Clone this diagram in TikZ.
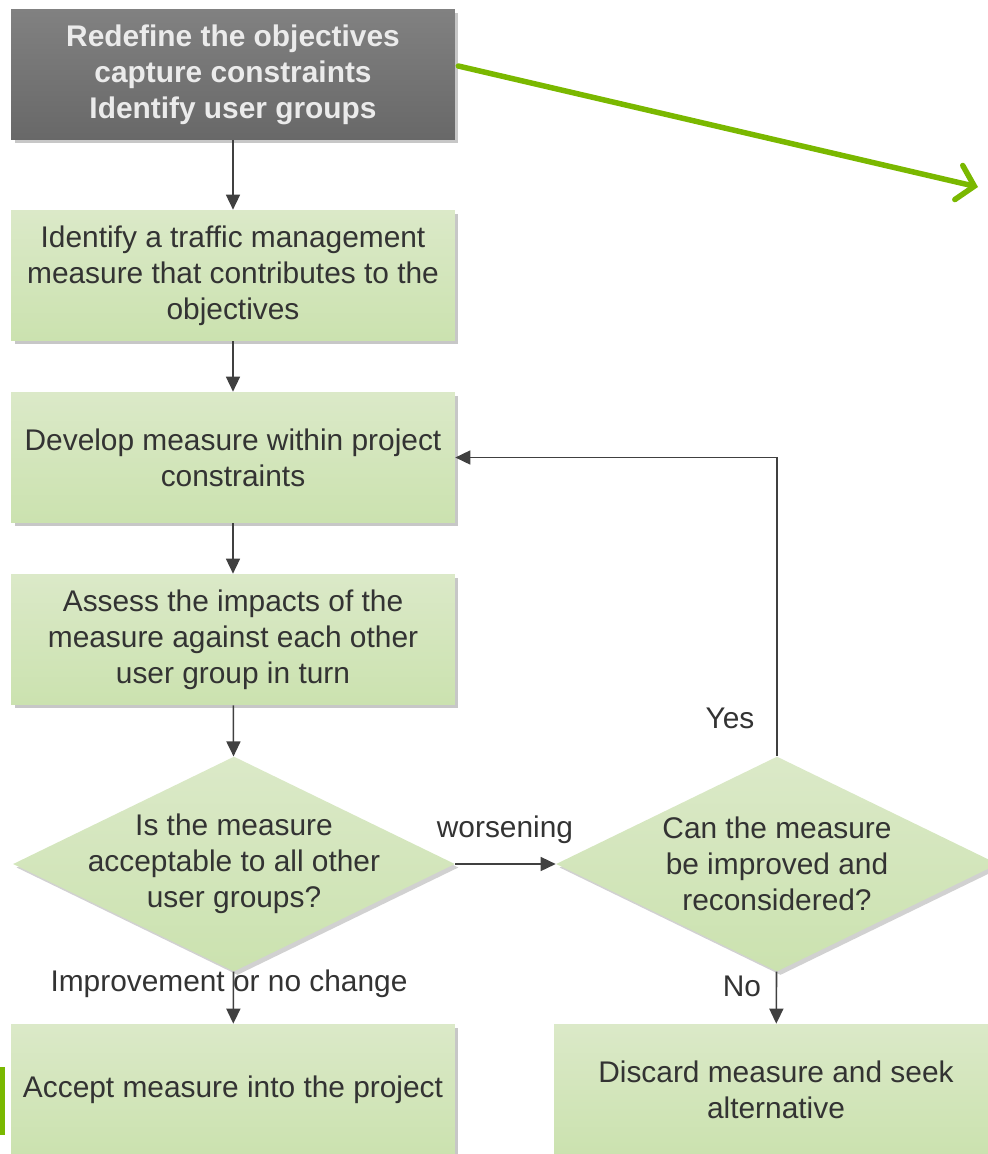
\documentclass[tikz,border=0pt]{standalone}
\usepackage{fontspec}
\setmainfont{Liberation Sans}
\usetikzlibrary{arrows.meta,shapes.geometric,shadows}
\definecolor{boxtop}{HTML}{DBE9C8}
\definecolor{boxbot}{HTML}{CBE2AF}
\definecolor{darktop}{HTML}{818181}
\definecolor{darkbot}{HTML}{686868}
\definecolor{txtgray}{HTML}{333333}
\definecolor{linegray}{HTML}{404040}
\definecolor{limegreen}{HTML}{7AB800}

\begin{document}
\begin{tikzpicture}[x=0.02cm,y=-0.02cm,
  font=\fontsize{17}{20.4}\selectfont, text=txtgray,
  stepbox/.style={rectangle, minimum width=8.88cm, minimum height=2.62cm,
    top color=boxtop, bottom color=boxbot, align=center, inner sep=0pt,
    drop shadow={shadow xshift=0.07cm, shadow yshift=-0.07cm, fill=black!22, opacity=1}},
  darkbox/.style={stepbox, top color=darktop, bottom color=darkbot,
    text=white!92!black, font=\fontsize{17}{20.4}\selectfont\bfseries},
  decision/.style={diamond, minimum width=8.84cm, minimum height=4.3cm, inner sep=0pt,
    top color=boxtop, bottom color=boxbot,
    drop shadow={shadow xshift=0.07cm, shadow yshift=-0.07cm, fill=black!18, opacity=1}},
  flow/.style={draw=linegray, line width=0.9pt, -{Triangle[length=0.3cm,width=0.28cm]}}]
\useasboundingbox (0,0) rectangle (988,1154);

\node[darkbox] (objectives) at (233,74.5) {Redefine the objectives\\capture constraints\\Identify user groups};
\node[stepbox] (identify) at (233,275.5) {Identify a traffic management\\measure that contributes to the\\objectives};
\node[stepbox] (develop) at (233,457.5) {Develop measure within project\\constraints};
\node[stepbox] (assess) at (233,639.5) {Assess the impacts of the\\measure against each other\\user group in turn};
\node[decision, label={[align=center]center:{Is the measure\\acceptable to all other\\user groups?}}] (acceptable) at (234,864) {};
\node[decision, label={[align=center]center:{Can the measure\\be improved and\\reconsidered?}}] (improve) at (777,864) {};
\node[stepbox] (accept) at (233,1089.5) {Accept measure into the project};
\node[stepbox] (discard) at (776,1089.5) {Discard measure and seek\\alternative};

% green bar at the left edge
\fill[limegreen] (0,1067) rectangle (5,1135);

\draw[flow] (objectives) -- (identify);
\draw[flow] (identify) -- (develop);
\draw[flow] (develop) -- (assess);
\draw[flow] (assess) -- (acceptable);
\draw[flow] (acceptable) -- (accept);
\draw[flow] (acceptable) -- (improve);
\draw[flow] (improve) -- (discard);
\draw[flow] (improve.north) |- (develop.east);

\node (worsening) at (505,830) {worsening};
\node (yes) at (730,718) {Yes};
\node (no) at (742,986) {No};
\node (nochange) at (229,984) {Improvement or no change};

% green arrow leaving the picture
\coordinate (outside) at (978,187);
\draw[limegreen, line width=0.11cm, line cap=round,
  -{Straight Barb[length=0.32cm,width=0.7cm,line cap=round]}]
  ([xshift=0.06cm,yshift=0.17cm]objectives.east) -- (outside);
\end{tikzpicture}
\end{document}
